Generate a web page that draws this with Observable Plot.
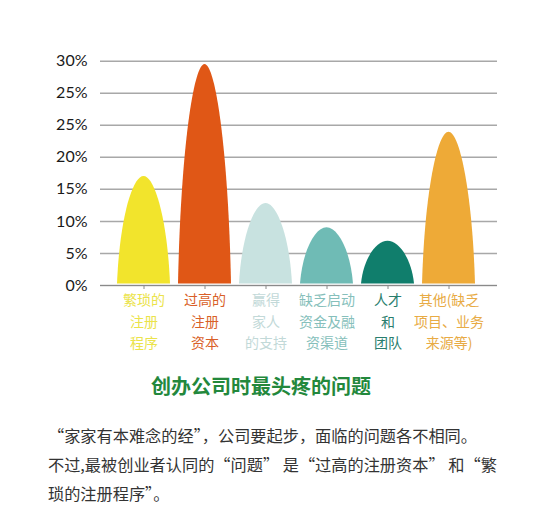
<!DOCTYPE html>
<html><head><meta charset="utf-8">
<script src="https://cdn.jsdelivr.net/npm/d3@7"></script>
<script src="https://cdn.jsdelivr.net/npm/@observablehq/plot@0.6"></script>
<style>
body{margin:0;background:#fff;width:550px;font-family:"Noto Sans CJK SC",sans-serif;}
#title{margin-top:13px;height:26px;line-height:26px;font-size:20px;font-weight:bold;color:#23883c;text-align:center;padding-right:28px;}
#body{margin-top:22px;padding-left:48px;font-size:16.2px;line-height:29px;color:#333;}
#body div{white-space:nowrap;}
</style></head>
<body>
<div id="chart"></div>
<div id="title"></div>
<div id="body"></div>
<script>
const categories = ["繁琐的注册程序","过高的注册资本","赢得家人的支持","缺乏启动资金及融资渠道","人才和团队","其他(缺乏项目、业务来源等)"];
const labelLines = [["繁琐的","注册","程序"],["过高的","注册","资本"],["赢得","家人","的支持"],["缺乏启动","资金及融","资渠道"],["人才","和","团队"],["其他(缺乏","项目、业务","来源等)"]];
// bar heights read in the chart's own gridline units (5 per gridline)
const values = [17, 34.5, 12.8, 9.0, 6.9, 23.9];
const barColors = ["#f2e42c","#e05716","#c8e2e0","#6fbbb5","#107e6c","#eeaa37"];
const labelColors = ["#ebe34a","#d95f28","#c2d9d8","#86bfbb","#2a7e6e","#e8ab45"];
const yTicks = [0,5,10,15,20,25,30,35];
const yTickLabels = ["0%","5%","10%","15%","20%","25%","25%","30%"];
const titleText = "创办公司时最头疼的问题";
const bodyLines = ["“家家有本难念的经”，公司要起步，面临的问题各不相同。","不过,最被创业者认同的“问题” 是“过高的注册资本” 和“繁","琐的注册程序”。"];

const data = categories.map((c,i)=>({cat:c, v:values[i], color:barColors[i], lc:labelColors[i], label:labelLines[i].join("\n")}));

function arch(index, scales, vals, dims, ctx) {
  const g = d3.create("svg:g");
  const x = scales.x, y = scales.y;
  const bw = x.bandwidth();
  for (const i of index) {
    const d = data[i];
    const x0 = x(d.cat), x1 = x0 + bw, xc = x0 + bw/2, hw = bw/2;
    const yb = y(0) - 1.5, yt = y(d.v), h = yb - yt;
    const p = `M${x0},${yb} C${x0+0.1*hw},${yb-0.6*h} ${xc-0.42*hw},${yt} ${xc},${yt} C${xc+0.42*hw},${yt} ${x1-0.1*hw},${yb-0.6*h} ${x1},${yb} Z`;
    g.append("path").attr("d", p).attr("fill", d.color);
  }
  return g.node();
}

const chart = Plot.plot({
  width: 550, height: 360,
  marginLeft: 100, marginRight: 53, marginTop: 60.7, marginBottom: 75,
  style: {background: "#fff"},
  x: {domain: categories, paddingInner: 0.125, paddingOuter: 0.28, align: 0.45, axis: null},
  y: {domain: [0,35], axis: null},
  marks: [
    Plot.gridY(yTicks, {stroke:"#a8a8a8", strokeOpacity:1, strokeWidth:1.5}),
    Plot.axisY(yTicks, {tickSize:0, tickPadding:13, tickFormat:(d,i)=>yTickLabels[i], fontSize:16, fill:"#1a1a1a", fontFamily:"Lato, sans-serif", label:null}),
    Plot.barY(data, {x:"cat", y:"v", render: arch}),
    Plot.ruleY([0], {stroke:"#8a8a8a", strokeWidth:1.2}),
    Plot.axisX({tickSize:4, tickFormat:()=>"", stroke:"#8a8a8a", label:null}),
    Plot.text(data, {x:"cat", y:0, text:"label", fill:"lc", dy:4, lineAnchor:"top", lineHeight:1.55, fontSize:14, fontFamily:"Noto Sans CJK SC, sans-serif"})
  ],
  color: {type:"identity"}
});
document.getElementById("chart").appendChild(chart);
document.getElementById("title").textContent = titleText;
const b = document.getElementById("body");
for (const l of bodyLines) { const d = document.createElement("div"); d.textContent = l; b.appendChild(d); }
</script>
</body></html>
